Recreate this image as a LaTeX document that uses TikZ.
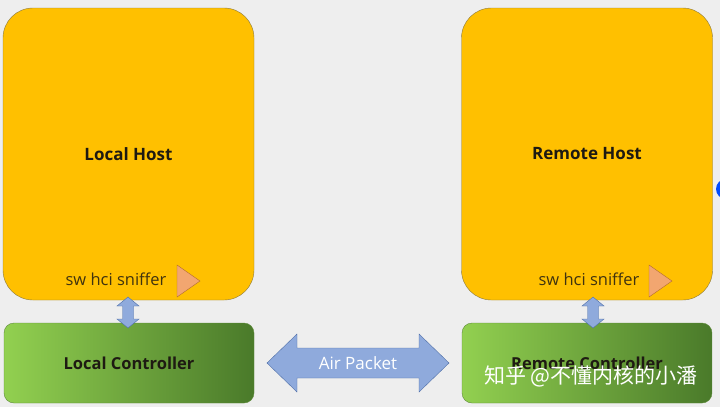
\documentclass[tikz,border=0pt]{standalone}
\usepackage{fontspec}
\setmainfont{Open Sans}
\newfontfamily\cjk{Noto Sans CJK SC}
\definecolor{paper}{HTML}{EEEEEE}
\definecolor{hostgold}{HTML}{FFC000}
\definecolor{hostedge}{HTML}{8C7A3E}
\definecolor{ctrllight}{HTML}{92D050}
\definecolor{ctrlmid}{HTML}{7DBA42}
\definecolor{ctrldark}{HTML}{4A7A2A}
\definecolor{ctrledge}{HTML}{5E8A3A}
\definecolor{pktblue}{HTML}{8FAADC}
\definecolor{pktedge}{HTML}{4F6FA8}
\definecolor{trifill}{HTML}{F2A670}
\definecolor{triedge}{HTML}{B36B30}
\definecolor{ink}{HTML}{1E1A12}
\tikzset{
  hostbox/.style={rectangle,rounded corners=30pt,draw=hostedge,fill=hostgold,
    minimum width=251pt,minimum height=292pt,text=ink,font=\bfseries\fontsize{17}{20}\selectfont},
  ctrlbox/.style={rectangle,rounded corners=10pt,draw=ctrledge,left color=ctrllight,
    middle color=ctrlmid,right color=ctrldark,minimum width=250pt,minimum height=80pt,
    text=ink,font=\bfseries\fontsize{16.5}{19}\selectfont},
  sniff/.style={text=ink!85!hostgold,font=\fontsize{16.5}{19}\selectfont},
  snifftri/.style={draw=triedge,fill=trifill},
  pktarrow/.style={draw=pktedge,fill=pktblue},
  pktlabel/.style={text=white,font=\fontsize{17}{20}\selectfont},
  watermark/.style={text=white,font=\cjk\fontsize{21}{25}\selectfont}
}
\begin{document}
\begin{tikzpicture}[x=1pt,y=-1pt]
  \fill[paper] (0,0) rectangle (720,407);
  \useasboundingbox (0,0) rectangle (720,407);
  \fill[blue!70!cyan] (726,189) circle (10);
  \draw node (lhost) at(128.5,154) [hostbox] {Local Host}
        node (rhost) at(587,154) [hostbox] {Remote Host}
        node (lctrl) at(129,363) [ctrlbox] {Local Controller}
        node (rctrl) at(587,363) [ctrlbox] {Remote Controller}
        node (lsniff) at(116,279) [sniff] {sw hci sniffer}
        node (rsniff) at(589,279) [sniff] {sw hci sniffer};
  \draw[snifftri] (177,265) -- (200,281) -- (177,297) -- cycle;
  \draw[snifftri] (649,265) -- (672,281) -- (649,297) -- cycle;
  \draw[pktarrow] (128,297) -- (139,306) -- (133.5,306) -- (133.5,319) -- (139,319) -- (128,328)
    -- (117,319) -- (122.5,319) -- (122.5,306) -- (117,306) -- cycle;
  \draw[pktarrow] (593,297) -- (604,306) -- (598.5,306) -- (598.5,319) -- (604,319) -- (593,328)
    -- (582,319) -- (587.5,319) -- (587.5,306) -- (582,306) -- cycle;
  \draw[pktarrow] (267,363) -- (297,334) -- (297,348) -- (419,348) -- (419,334) -- (449,363)
    -- (419,392) -- (419,378) -- (297,378) -- (297,392) -- cycle;
  \node (air) at(358,363) [pktlabel] {Air Packet};
  \node (wm) at(591,376) [watermark] {知乎 @不懂内核的小潘};
\end{tikzpicture}
\end{document}
